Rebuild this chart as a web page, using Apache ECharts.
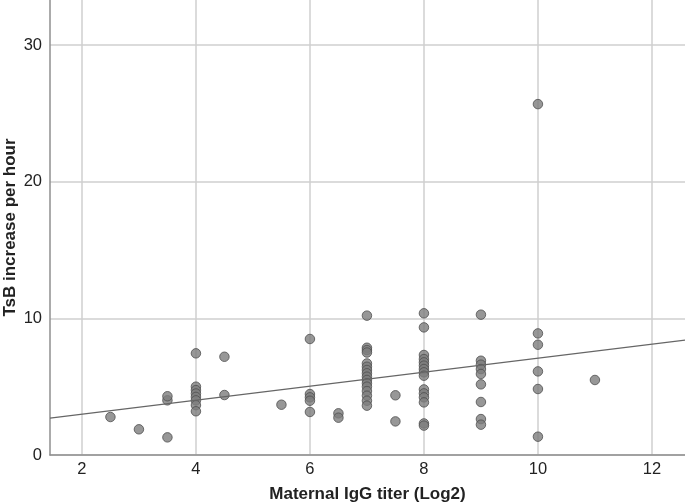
<!DOCTYPE html>
<html>
<head>
<meta charset="utf-8">
<script src="https://cdn.jsdelivr.net/npm/echarts@6/dist/echarts.min.js"></script>
<style>
html,body{margin:0;padding:0;background:#fff;}
#chart{width:685px;height:503px;}
</style>
</head>
<body>
<div id="chart"></div>
<script>
// Data
const titerX = [
  2.5, 3, 3.5, 3.5, 3.5,
  4, 4, 4, 4, 4, 4, 4, 4,
  4.5, 4.5, 5.5,
  6, 6, 6, 6, 6,
  6.5, 6.5,
  7, 7, 7, 7, 7, 7, 7, 7, 7, 7, 7, 7, 7, 7, 7, 7,
  7.5, 7.5,
  8, 8, 8, 8, 8, 8, 8, 8, 8, 8, 8, 8, 8, 8, 8,
  9, 9, 9, 9, 9, 9, 9, 9, 9,
  10, 10, 10, 10, 10, 10,
  11
];
const tsbY = [
  2.78, 1.88, 1.29, 4.0, 4.3,
  7.44, 5.0, 4.75, 4.5, 4.25, 4.0, 3.65, 3.2,
  7.19, 4.39, 3.68,
  8.49, 4.46, 4.22, 3.97, 3.15,
  3.05, 2.73,
  10.2, 7.85, 7.68, 7.5, 6.7, 6.46, 6.22, 5.98, 5.73, 5.49, 5.25, 5.0, 4.68, 4.34, 3.97, 3.61,
  4.37, 2.46,
  10.37, 9.34, 7.32, 7.02, 6.78, 6.54, 6.29, 6.05, 5.8, 4.8, 4.51, 4.22, 3.85, 2.31, 2.15,
  10.27, 6.9, 6.61, 6.29, 5.93, 5.17, 3.88, 2.63, 2.22,
  25.68, 8.9, 8.07, 6.12, 4.83, 1.34,
  5.49
];
// Fit line endpoints read at the plot edges
const fitX = [1.44, 12.58];
const fitY = [2.7, 8.41];
const xTicks = [2, 4, 6, 8, 10, 12];
const yTicks = [0, 10, 20, 30];
const xTitle = 'Maternal IgG titer (Log2)';
const yTitle = 'TsB increase per hour';

const points = titerX.map((x, i) => [x, tsbY[i]]);
const fit = fitX.map((x, i) => [x, fitY[i]]);

const chart = echarts.init(document.getElementById('chart'), null, {renderer: 'canvas'});
const font = 'Liberation Sans, Arial, Helvetica, sans-serif';
chart.setOption({
  animation: false,
  backgroundColor: '#ffffff',
  grid: {left: 50, right: 0, top: 0, bottom: 48, containLabel: false, outerBoundsMode: 'none'},
  xAxis: {
    type: 'value',
    min: 1.44, max: 12.58,
    name: xTitle,
    nameLocation: 'middle',
    nameGap: 31,
    nameMoveOverlap: false,
    nameTextStyle: {fontFamily: font, fontSize: 17, fontWeight: 'bold', color: '#222'},
    axisLine: {show: true, lineStyle: {color: '#8f8f8f', width: 1.5}},
    axisTick: {show: false, customValues: xTicks},
    axisLabel: {customValues: xTicks, fontFamily: font, fontSize: 16.5, color: '#222', margin: 6},
    splitLine: {show: true, lineStyle: {color: '#cfcfcf', width: 1.5}}
  },
  yAxis: {
    type: 'value',
    min: 0, max: 33.3,
    name: yTitle,
    nameLocation: 'middle',
    nameGap: 31,
    nameRotate: 90,
    nameMoveOverlap: false,
    nameTextStyle: {fontFamily: font, fontSize: 17, fontWeight: 'bold', color: '#222'},
    axisLine: {show: true, lineStyle: {color: '#8f8f8f', width: 1.5}},
    axisTick: {show: false, customValues: yTicks},
    axisLabel: {customValues: yTicks, fontFamily: font, fontSize: 16.5, color: '#222', margin: 8},
    splitLine: {show: true, lineStyle: {color: '#cfcfcf', width: 1.5}}
  },
  series: [
    {
      type: 'line',
      data: fit,
      symbol: 'none',
      lineStyle: {color: '#666666', width: 1.3},
      z: 3,
      silent: true
    },
    {
      type: 'scatter',
      data: points,
      symbolSize: 9.5,
      itemStyle: {color: '#7d7d7d', borderColor: '#4f4f4f', borderWidth: 1},
      z: 2
    }
  ]
});
</script>
</body>
</html>
